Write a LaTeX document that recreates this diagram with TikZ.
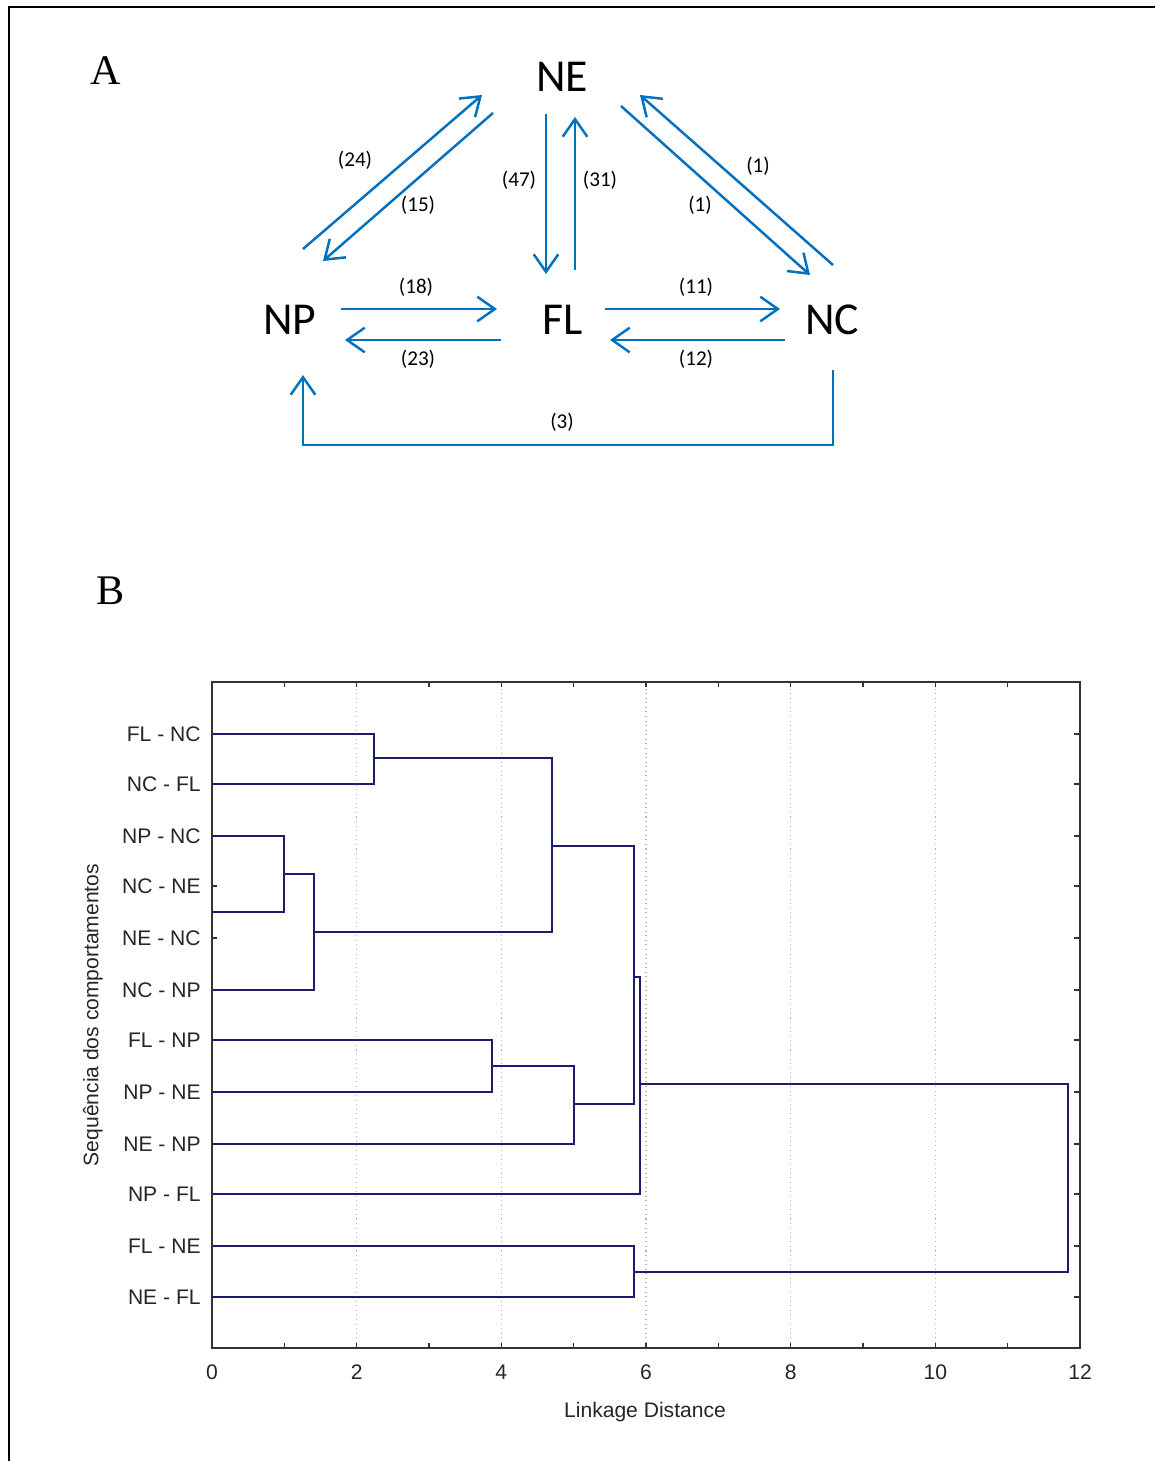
\documentclass[tikz,border=0pt]{standalone}
\usepackage{fontspec}
\setmainfont{Liberation Serif}
\newfontfamily\calib{Carlito}
\newfontfamily\arialf{Liberation Sans}
\usetikzlibrary{arrows.meta}
\definecolor{ablue}{HTML}{0070C0}
\definecolor{dnavy}{RGB}{28,28,110}
\begin{document}
\begin{tikzpicture}[x=0.02cm,y=-0.02cm,
  big/.style={font=\calib\fontsize{26}{30}\selectfont, inner sep=0pt},
  num/.style={font=\calib\fontsize{12}{14}\selectfont, inner sep=0pt},
  panel/.style={font=\fontsize{24}{28}\selectfont, inner sep=0pt},
  arr/.style={ablue, line width=1.4pt, -{Straight Barb[length=10pt,width=14pt]}},
  dend/.style={dnavy, line width=1.1pt},
  leaflab/.style={font=\arialf\fontsize{12}{14}\selectfont, text=black!85, anchor=east, inner sep=0pt},
  axlab/.style={font=\arialf\fontsize{12}{14}\selectfont, text=black!85, inner sep=0pt},
  grid/.style={gray!60, dotted, line width=0.6pt},
  frm/.style={black!80, line width=1.2pt},
  tck/.style={black!80, line width=0.8pt}]
\useasboundingbox (0,0) rectangle (1155,1461);
\fill[white] (0,0) rectangle (1155,1461);
\draw[line width=1.7pt] (9,1461) -- (9,7) -- (1155,7);

% Panel labels
\node[panel] (pA) at (106,71) {A};
\node[panel] (pB) at (111,591) {B};

% Panel A nodes
\node[big] (NE) at (562,77) {NE};
\node[big] (NP) at (290,320) {NP};
\node[big] (FL) at (563,320) {FL};
\node[big] (NC) at (832,320) {NC};

% Arrows
\draw[arr] ([shift={(13,-71)}]NP.center) -- ([shift={(-80,18)}]NE.center);
\draw[arr] ([shift={(-69,36)}]NE.center) -- ([shift={(33,-59)}]NP.center);
\draw[arr] ([shift={(-16,37)}]NE.center) -- ([shift={(-17,-46)}]FL.center);
\draw[arr] ([shift={(12,-50)}]FL.center) -- ([shift={(13,40)}]NE.center);
\draw[arr] ([shift={(59,29)}]NE.center) -- ([shift={(-22,-45)}]NC.center);
\draw[arr] ([shift={(1,-55)}]NC.center) -- ([shift={(78,18)}]NE.center);
\draw[arr] ([shift={(51,-11)}]NP.center) -- ([shift={(-66,-11)}]FL.center);
\draw[arr] ([shift={(-62,20)}]FL.center) -- ([shift={(55,20)}]NP.center);
\draw[arr] ([shift={(42,-11)}]FL.center) -- ([shift={(-52,-11)}]NC.center);
\draw[arr] ([shift={(-47,20)}]NC.center) -- ([shift={(47,20)}]FL.center);
\draw[arr] ([shift={(1,50)}]NC.center) -- ++(0,75) -| ([shift={(13,55)}]NP.center);

% Arrow labels
\node[num] (n24) at (355,160) {(24)};
\node[num] (n15) at (418,205) {(15)};
\node[num] (n47) at (519,180) {(47)};
\node[num] (n31) at (600,180) {(31)};
\node[num] (n1a) at (700,205) {(1)};
\node[num] (n1b) at (758,166) {(1)};
\node[num] (n18) at (416,287) {(18)};
\node[num] (n23) at (418,359) {(23)};
\node[num] (n11) at (696,287) {(11)};
\node[num] (n12) at (696,359) {(12)};
\node[num] (n3) at (562,422) {(3)};

% Panel B: grid
\foreach \g in {2,4,6,8,10} {
  \pgfmathsetmacro{\gx}{212+72.333*\g}
  \draw[grid] (\gx,684) -- (\gx,1346);
}
% ticks
\foreach \i in {1,...,11} {
  \pgfmathsetmacro{\tx}{212+72.333*\i}
  \draw[tck] (\tx,682) -- (\tx,687);
  \draw[tck] (\tx,1348) -- (\tx,1343);
}
\foreach \i in {0,2,...,12} {
  \pgfmathsetmacro{\tx}{212+72.333*\i}
  \node[axlab] (t\i) at (\tx,1372) {\i};
}
\foreach \ry in {734,784,836,886,938,990,1040,1092,1144,1194,1246,1297} {
  \draw[tck] (1080,\ry) -- (1074,\ry);
  \draw[tck] (212,\ry) -- (217,\ry);
}
\draw[frm] (212,682) rectangle (1080,1348);

% leaf labels
\node[leaflab] (L1) at (201,734) {FL - NC};
\node[leaflab] (L2) at (201,784) {NC - FL};
\node[leaflab] (L3) at (201,836) {NP - NC};
\node[leaflab] (L4) at (201,886) {NC - NE};
\node[leaflab] (L5) at (201,938) {NE - NC};
\node[leaflab] (L6) at (201,990) {NC - NP};
\node[leaflab] (L7) at (201,1040) {FL - NP};
\node[leaflab] (L8) at (201,1092) {NP - NE};
\node[leaflab] (L9) at (201,1144) {NE - NP};
\node[leaflab] (L10) at (201,1194) {NP - FL};
\node[leaflab] (L11) at (201,1246) {FL - NE};
\node[leaflab] (L12) at (201,1297) {NE - FL};

\node[axlab, rotate=90] (ylab) at (93,1015) {Sequência dos comportamentos};
\node[axlab] (xlab) at (645,1412) {Linkage Distance};

% dendrogram
\draw[dend] (212,734) -| (374,784) -- (212,784);
\draw[dend] (374,758) -| (552,932) -- (314,932);
\draw[dend] (212,836) -| (284,912) -- (212,912);
\draw[dend] (284,874) -| (314,990) -- (212,990);
\draw[dend] (552,846) -| (634,1104) -- (574,1104);
\draw[dend] (212,1040) -| (492,1092) -- (212,1092);
\draw[dend] (492,1066) -| (574,1144) -- (212,1144);
\draw[dend] (634,977) -| (640,1194) -- (212,1194);
\draw[dend] (640,1084) -| (1068,1272) -- (634,1272);
\draw[dend] (212,1246) -| (634,1297) -- (212,1297);
\end{tikzpicture}
\end{document}
